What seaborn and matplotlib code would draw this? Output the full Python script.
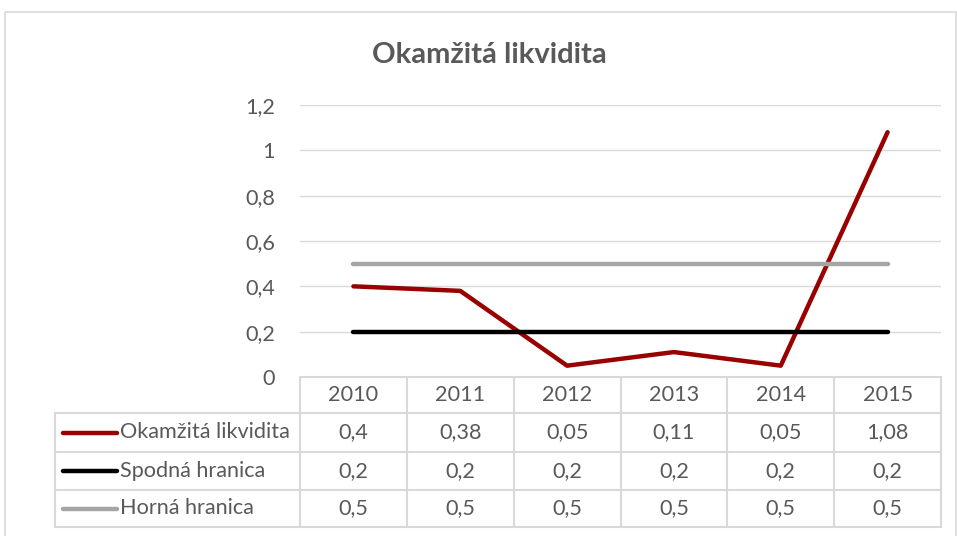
import pandas as pd
import matplotlib.pyplot as plt
import seaborn as sns
from matplotlib.lines import Line2D

years = ['2010', '2011', '2012', '2013', '2014', '2015']
likvidita = [0.4, 0.38, 0.05, 0.11, 0.05, 1.08]
spodna = [0.2, 0.2, 0.2, 0.2, 0.2, 0.2]
horna = [0.5, 0.5, 0.5, 0.5, 0.5, 0.5]
series_names = ['Okamžitá likvidita', 'Spodná hranica', 'Horná hranica']
colors = ['#990000', '#000000', '#A5A5A5']

def fmt(v):
    return ('%g' % v).replace('.', ',')

rows = []
for name, vals in zip(series_names, [likvidita, spodna, horna]):
    for i, v in enumerate(vals):
        rows.append({'idx': i, 'value': v, 'series': name})
df = pd.DataFrame(rows)

sns.set_style('white')
plt.rcParams['font.family'] = ['Lato', 'DejaVu Sans']

W, H = 957, 536
fig = plt.figure(figsize=(W / 100, H / 100), dpi=100)

# pixel-space overlay for frame and table
bg = fig.add_axes([0, 0, 1, 1])
bg.set_xlim(0, W)
bg.set_ylim(H, 0)
bg.axis('off')

grid_c = '#D9D9D9'
txt_c = '#595959'
fs = 15.6

bg.plot([5, 5, 956, 956], [H, 12, 12, H], color=grid_c, lw=1.2)

# main plot area: x 300..941, y 105 (1.2) .. 377 (0)
x0, x1, ytop, ybot = 300, 941, 105, 377
ax = fig.add_axes([x0 / W, 1 - ybot / H, (x1 - x0) / W, (ybot - ytop) / H])
sns.lineplot(data=df, x='idx', y='value', hue='series', palette=colors,
             hue_order=series_names, linewidth=3.2, legend=False, ax=ax)
for ln in ax.get_lines():
    ln.set_solid_capstyle('round')
ax.set_xlim(-0.5, len(years) - 0.5)
ax.set_ylim(0, 1.2)
ax.set_yticks([0, 0.2, 0.4, 0.6, 0.8, 1.0, 1.2])
ax.set_yticklabels([fmt(t) for t in ax.get_yticks()], color=txt_c, fontsize=fs)
ax.set_xticks([])
ax.set_xlabel('')
ax.set_ylabel('')
ax.yaxis.grid(True, color=grid_c, lw=1)
ax.set_axisbelow(True)
ax.tick_params(axis='y', length=0, pad=18)
for s in ax.spines.values():
    s.set_visible(False)
ax.patch.set_alpha(0)

fig.text(489 / W, 1 - 55 / H, 'Okamžitá likvidita', ha='center', va='center',
         fontsize=21, fontweight='bold', color=txt_c)

# data table
col_w = (x1 - x0) / len(years)
row_y = [377, 413, 452, 490, 527]
left = 55
lw = 1.5
bg.plot([x0, x1], [row_y[0], row_y[0]], color=grid_c, lw=lw)
for y in row_y[1:]:
    bg.plot([left, x1], [y, y], color=grid_c, lw=lw)
bg.plot([left, left], [row_y[1], row_y[-1]], color=grid_c, lw=lw)
for i in range(len(years) + 1):
    x = x0 + i * col_w
    bg.plot([x, x], [row_y[0], row_y[-1]], color=grid_c, lw=lw)

for i, yr in enumerate(years):
    cx = x0 + (i + 0.5) * col_w
    bg.text(cx, (row_y[0] + row_y[1]) / 2, yr, ha='center', va='center',
            fontsize=fs, color=txt_c)

for r, (name, vals, c) in enumerate(zip(series_names, [likvidita, spodna, horna], colors)):
    cy = (row_y[r + 1] + row_y[r + 2]) / 2
    bg.add_line(Line2D([63, 117], [cy, cy], color=c, lw=3.2, solid_capstyle='round'))
    bg.text(120, cy, name, ha='left', va='center', fontsize=fs, color=txt_c)
    for i, v in enumerate(vals):
        cx = x0 + (i + 0.5) * col_w
        bg.text(cx, cy, fmt(v), ha='center', va='center', fontsize=fs, color=txt_c)

fig.savefig('out.png', dpi=100)
